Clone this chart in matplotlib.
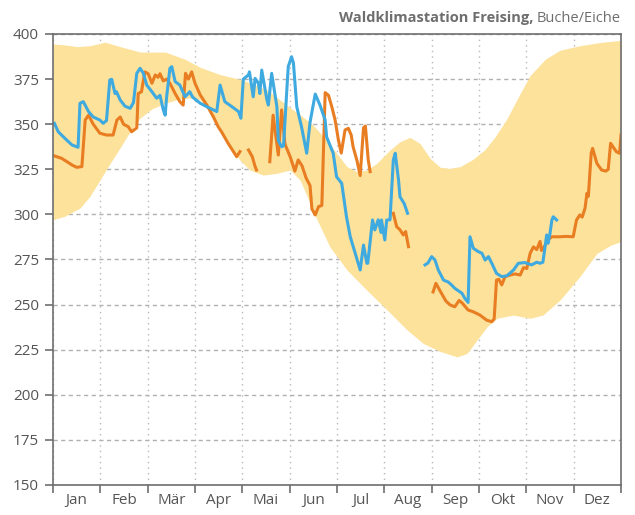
import numpy as np
import matplotlib
matplotlib.use("Agg")
import matplotlib.pyplot as plt
from matplotlib.transforms import offset_copy

plt.rcParams["font.family"] = ["Open Sans", "DejaVu Sans"]

# x positions are in months (0 = 1. Jan, 12 = 31. Dez)
months = ["Jan", "Feb", "Mär", "Apr", "Mai", "Jun", "Jul", "Aug", "Sep", "Okt", "Nov", "Dez"]

# range band (upper / lower edge)
band_up_x = [0, 0.25, 0.51, 0.78, 1.10, 1.42, 1.84, 2.37, 2.79, 3.11, 3.53, 4.01, 4.52, 4.80,
             5.07, 5.28, 5.49, 5.78, 5.99, 6.21, 6.42, 6.63, 6.84, 7.12, 7.33, 7.54, 7.75,
             7.97, 8.18, 8.39, 8.60, 8.87, 9.13, 9.34, 9.59, 9.87, 10.08, 10.40, 10.71, 11.13,
             11.56, 12.0]
band_up_y = [394.5, 394, 393, 393.5, 395.5, 393, 390, 390, 386, 381.5, 377.5, 374.5, 369, 363.4,
             358, 354, 349.6, 341.2, 334, 326.5, 323.7, 324.6, 328.3, 335.7, 340.3, 342.7, 339.4,
             331, 326.1, 325.5, 326.5, 330.5, 336, 343, 353, 367, 377, 386, 391, 393.5,
             395.3, 396.5]
band_lo_x = [0, 0.25, 0.57, 0.78, 0.99, 1.20, 1.42, 1.63, 1.84, 2.09, 2.37, 2.68, 2.89, 3.11,
             3.38, 3.70, 3.95, 4.16, 4.44, 4.73, 5.01, 5.22, 5.37, 5.58, 5.85, 6.21, 6.63,
             7.06, 7.48, 7.82, 8.18, 8.54, 8.75, 8.96, 9.17, 9.38, 9.72, 10.08, 10.35, 10.71,
             11.13, 11.49, 11.79, 12.0]
band_lo_y = [297, 299, 303.5, 310, 319, 328, 337, 346, 353.4, 358.5, 361.7, 364, 364.5, 363.5,
             355, 340, 330, 324.6, 321.8, 322.8, 324.6, 319, 310, 297, 282, 269.2, 258,
             247, 236, 228.5, 224, 221, 223, 230.4, 237.7, 242.4, 244.2, 242.4, 244.2, 252.5,
             265.5, 278.4, 283, 285]

# Buche (blue), two segments
buche_x1 = [0.03, 0.11, 0.25, 0.40, 0.53, 0.57, 0.64, 0.75, 0.85, 0.99, 1.06, 1.13, 1.20, 1.24,
            1.31, 1.34, 1.42, 1.52, 1.63, 1.70, 1.77, 1.84, 1.91, 1.98, 2.09, 2.19, 2.26, 2.33,
            2.37, 2.40, 2.47, 2.51, 2.58, 2.68, 2.79, 2.89, 2.95, 3.11, 3.25, 3.39, 3.46, 3.53,
            3.63, 3.78, 3.92, 3.97, 4.02, 4.13, 4.15, 4.23, 4.27, 4.34, 4.37, 4.41, 4.52, 4.55,
            4.62, 4.73, 4.76, 4.83, 4.87, 4.94, 4.97, 5.04, 5.08, 5.15, 5.25, 5.36, 5.43, 5.54,
            5.64, 5.75, 5.78, 5.92, 5.99, 6.10, 6.20, 6.28, 6.49, 6.56, 6.63, 6.65, 6.75, 6.80,
            6.87, 6.93, 6.94, 7.01, 7.05, 7.12, 7.19, 7.23, 7.30, 7.33, 7.42, 7.49]
buche_y1 = [350.5, 345.8, 342.2, 338.5, 337.2, 361.6, 362.5, 357, 354, 352.3, 350.5, 352, 374.5, 374.9,
            367, 368, 363.4, 360, 358.8, 362, 378.2, 381, 378.2, 371.7, 368, 364.4, 366, 357.9,
            355, 365, 381, 381.9, 373.6, 371.7, 365.2, 368, 365, 361.6, 359.7, 357.9, 357, 371.7,
            362.5, 359.7, 357, 353.3, 375, 377.3, 379, 365.2, 375.4, 372.7, 367, 380, 363.4, 360.6,
            378.2, 359.7, 341, 337.5, 338, 369, 381.9, 387.4, 383.8, 359.7, 348.6, 333.9, 351, 366.7,
            360.6, 352.3, 343, 333.9, 320.9, 317.2, 298.7, 287.6, 269.2, 283, 272.9, 272.9, 296.9, 291.4,
            297, 290, 296.9, 285.8, 296.9, 297, 330.2, 333.9, 319, 309.8, 306, 300.6]
buche_x2 = [7.86, 7.92, 8.00, 8.07, 8.14, 8.25, 8.35, 8.42, 8.49, 8.64, 8.70, 8.77, 8.81, 8.88,
            8.99, 9.06, 9.13, 9.20, 9.27, 9.37, 9.48, 9.59, 9.73, 9.83, 9.97, 10.11, 10.22, 10.29,
            10.35, 10.43, 10.46, 10.50, 10.54, 10.57, 10.64]
buche_y2 = [272, 273, 276.6, 274.7, 269.2, 263.6, 262.5, 260.9, 259, 256.3, 253.5, 251.2, 287.6, 281.2,
            279.3, 278.5, 274.7, 276.6, 272.9, 267.3, 265.5, 266, 269.2, 272.9, 273.3, 272, 273.5, 272.9,
            273.5, 288.6, 284, 289.5, 296.9, 298.7, 296.9]

# Eiche (orange), five segments
eiche_x1 = [0.03, 0.18, 0.29, 0.40, 0.50, 0.61, 0.68, 0.75, 0.85, 0.99, 1.13, 1.27, 1.35, 1.42,
            1.49, 1.59, 1.66, 1.77, 1.80, 1.87, 1.94, 2.01, 2.09, 2.16, 2.22, 2.26, 2.33, 2.40,
            2.47, 2.58, 2.68, 2.75, 2.80, 2.86, 2.93, 3.00, 3.11, 3.25, 3.39, 3.49, 3.56, 3.70,
            3.88, 3.95]
eiche_y1 = [332.4, 331.1, 329.3, 327.4, 326.1, 326.5, 352.3, 355, 350, 345, 344, 344, 352.3, 354,
            350, 348.6, 345.8, 348, 367, 368, 379, 378, 372.7, 377.3, 376, 378, 374, 375,
            372.7, 367, 362.5, 360.6, 378.2, 375, 379, 372.7, 366.2, 360.6, 354, 348.6, 345.8, 339.4,
            332, 334.8]
eiche_x2 = [4.13, 4.21, 4.27, 4.30]
eiche_y2 = [335.7, 332, 326.5, 324.6]
eiche_x3 = [4.58, 4.65, 4.76, 4.83, 4.90, 5.01, 5.11, 5.18, 5.26, 5.35, 5.43, 5.47, 5.54, 5.61,
            5.68, 5.75, 5.82, 5.89, 5.96, 6.03, 6.09, 6.17, 6.24, 6.30, 6.34, 6.42, 6.49, 6.56,
            6.60, 6.66, 6.70]
eiche_y3 = [329.2, 355, 332.9, 357.9, 339, 332, 324, 330.2, 327, 320, 316, 303, 299.7, 304.3,
            305, 367.5, 366, 359.7, 352.3, 341.2, 334, 346.8, 347.7, 344, 337.5, 330, 321.5, 348,
            349, 330.2, 323.7]
eiche_x4 = [7.19, 7.26, 7.33, 7.40, 7.45, 7.51]
eiche_y4 = [300.6, 293.2, 291.5, 288.6, 290.5, 282.1]
eiche_x5 = [8.03, 8.09, 8.18, 8.30, 8.39, 8.49, 8.58, 8.64, 8.77, 8.88, 9.02, 9.16, 9.27, 9.32,
            9.37, 9.42, 9.48, 9.55, 9.66, 9.76, 9.87, 9.94, 10.01, 10.08, 10.15, 10.22, 10.29, 10.32,
            10.40, 10.46, 10.54, 10.71, 10.84, 10.99, 11.06, 11.13, 11.18, 11.24, 11.28, 11.31, 11.37,
            11.40, 11.49, 11.59, 11.68, 11.73, 11.78, 11.83, 11.90, 11.97, 12.0]
eiche_y5 = [257, 261.8, 257.5, 252, 249.8, 248.8, 252.3, 251, 247, 246, 244.2, 241.4, 240.5, 242,
            263.6, 264, 260.9, 265.5, 266.4, 267, 266.4, 270.5, 270, 278.4, 282, 280.5, 285, 280,
            283, 286, 287.6, 287.6, 287.8, 287.6, 296.9, 299.7, 298.5, 303.4, 311.7, 310, 333.9,
            336.6, 328.3, 324.6, 324, 325, 339.4, 337.5, 334.8, 333.9, 344]

band_col = "#fde29c"
blue = "#3eaae0"
orange = "#e87d22"
gray = "#6e6e6e"

fig = plt.figure(figsize=(6.35, 5.15), dpi=100)
ax = fig.add_axes([53 / 635, 1 - 485 / 515, 568 / 635, 451 / 515])

# band: both edges on a common x grid for fill_between
xx = np.union1d(band_up_x, band_lo_x)
ax.fill_between(xx, np.interp(xx, band_lo_x, band_lo_y), np.interp(xx, band_up_x, band_up_y),
                color=band_col, lw=0, zorder=1)

for x, y in [(buche_x1, buche_y1), (buche_x2, buche_y2)]:
    ax.plot(x, y, color=blue, lw=2.2, solid_joinstyle="round", zorder=4)
for x, y in [(eiche_x1, eiche_y1), (eiche_x2, eiche_y2), (eiche_x3, eiche_y3),
             (eiche_x4, eiche_y4), (eiche_x5, eiche_y5)]:
    ax.plot(x, y, color=orange, lw=2.2, solid_joinstyle="round", zorder=3)

ax.set_xlim(0, 12)
ax.set_ylim(150, 400)
ax.set_yticks(np.arange(150, 401, 25))
ax.set_xticks(np.arange(0, 13))
ax.set_xticklabels([])
ax.set_xticks(np.arange(0.5, 12), minor=True)
ax.set_xticklabels(months, minor=True)
ax.tick_params(axis="x", which="minor", length=0, pad=6)
ax.tick_params(axis="x", which="major", length=6, color=gray, width=1.2)
ax.tick_params(axis="y", length=6, color=gray, width=1.2, pad=4)
ax.tick_params(axis="both", which="both", labelsize=11, labelcolor="#555555")

ax.set_axisbelow(True)
ax.grid(axis="y", color="#b0b0b0", ls=(0, (3, 2.5)), lw=1.0)
ax.grid(axis="x", which="major", color="#b8b8b8", ls=(0, (1, 3)), lw=1.0)
for s in ax.spines.values():
    s.set_color(gray)
    s.set_linewidth(1.2)
    s.set_zorder(5)

# title: bold part placed left of the normal part
t2 = fig.text(0.978, 0.965, "Buche/Eiche", ha="right", va="center", fontsize=10.5, color=gray)
fig.canvas.draw()
w = t2.get_window_extent().width
fig.text(0.978, 0.965, "Waldklimastation Freising,", ha="right", va="center",
         fontsize=10.5, color=gray, fontweight="bold",
         transform=offset_copy(fig.transFigure, fig=fig, x=-(w + 4), units="dots"))

fig.savefig("out.png", dpi=100)
